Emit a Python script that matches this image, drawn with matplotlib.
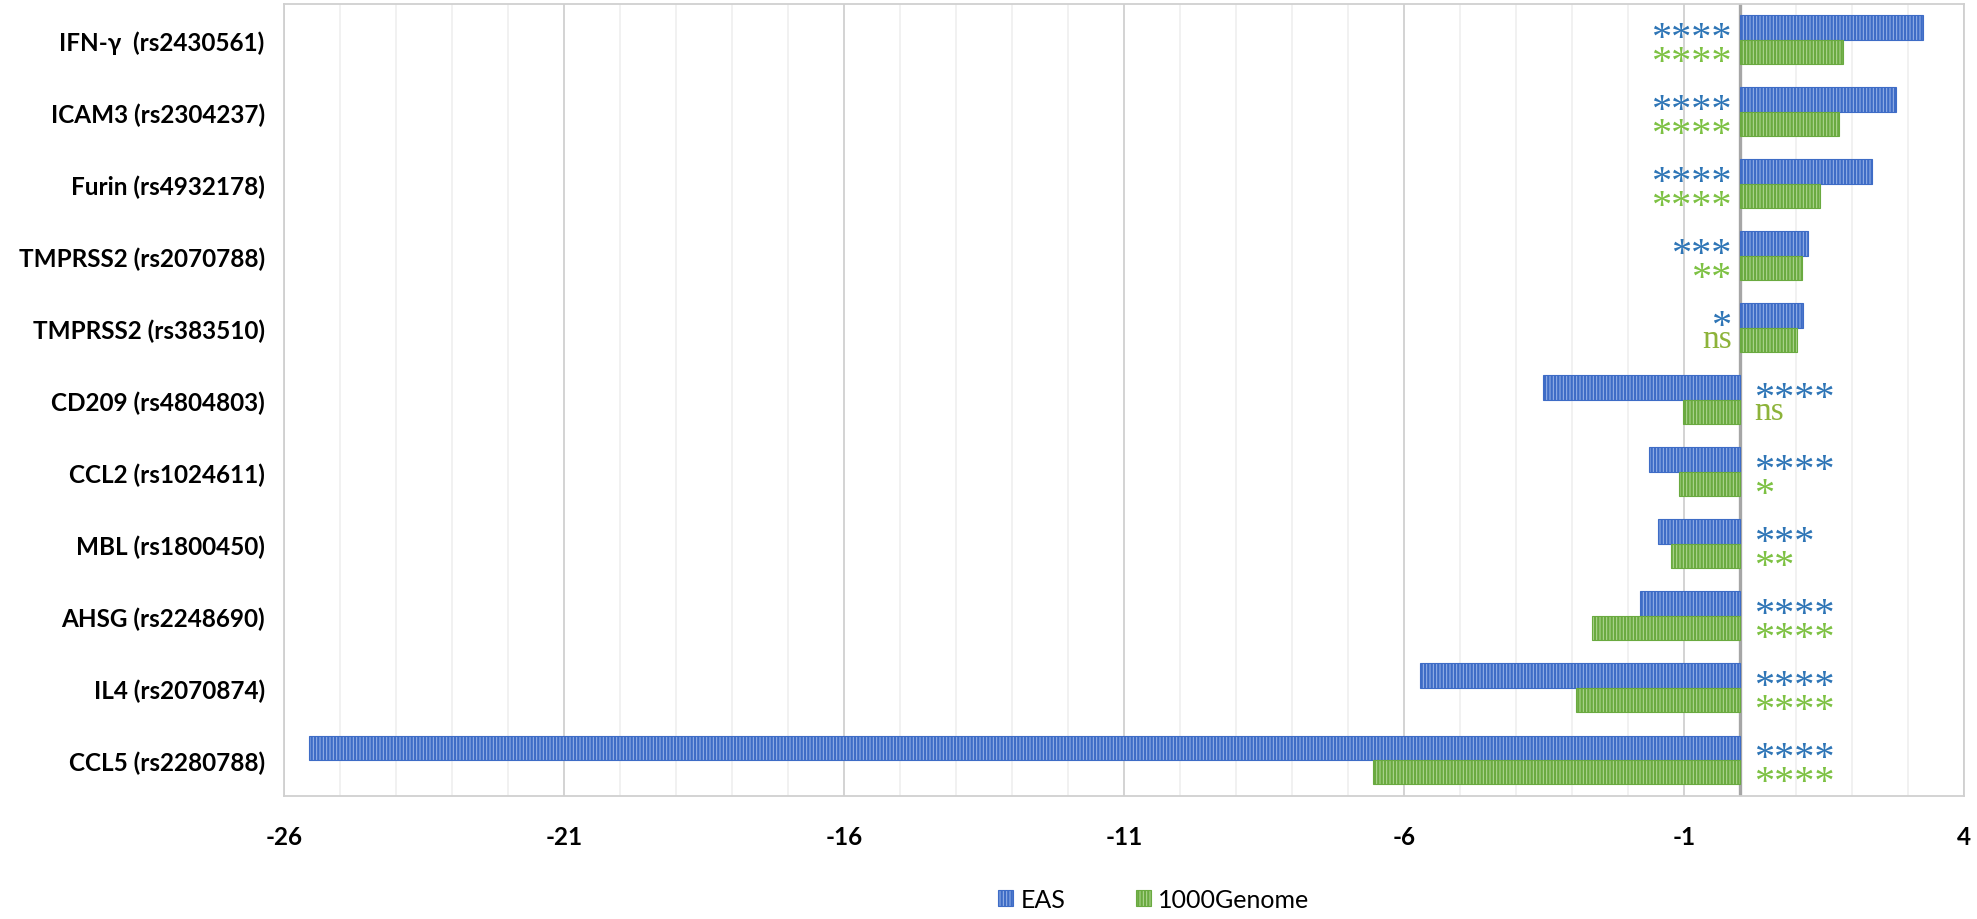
import numpy as np
import matplotlib
matplotlib.use('Agg')
import matplotlib.pyplot as plt

genes = ['IFN-γ  (rs2430561)', 'ICAM3 (rs2304237)', 'Furin (rs4932178)',
         'TMPRSS2 (rs2070788)', 'TMPRSS2 (rs383510)', 'CD209 (rs4804803)',
         'CCL2 (rs1024611)', 'MBL (rs1800450)', 'AHSG (rs2248690)',
         'IL4 (rs2070874)', 'CCL5 (rs2280788)']
eas = [3.27, 2.78, 2.35, 1.22, 1.12, -3.51, -1.62, -1.47, -1.78, -5.71, -25.55]
g1000 = [1.84, 1.76, 1.43, 1.10, 1.01, -1.01, -1.08, -1.23, -2.65, -2.92, -6.56]
sig_eas = ['****', '****', '****', '***', '*', '****', '****', '***', '****', '****', '****']
sig_1000 = ['****', '****', '****', '**', 'ns', 'ns', '*', '**', '****', '****', '****']
xticks = [-26, -21, -16, -11, -6, -1, 4]

blue_dark = '#3E6CC6'
blue_light = '#9DB7EA'
green_dark = '#6AAA40'
green_light = '#B5DA9A'
blue_txt = '#2E75B6'
green_txt = '#7DC143'
ns_col = '#8DB33A'

plt.rcParams['hatch.linewidth'] = 1.7
plt.rcParams['axes.unicode_minus'] = False

fig = plt.figure(figsize=(19.77, 9.2), dpi=100)
ax = fig.add_axes([0.1437, 0.1337, 0.8497, 0.861])

n = len(genes)
y = np.arange(n)[::-1]
h = 0.34
b1 = ax.barh(y + h/2, eas, height=h, color=blue_light, edgecolor=blue_dark,
             hatch='|||||', linewidth=0.8, label='EAS', zorder=3)
b2 = ax.barh(y - h/2, g1000, height=h, color=green_light, edgecolor=green_dark,
             hatch='|||||', linewidth=0.8, label='1000Genome', zorder=3)

# significance marks, stars sit high in the serif font so drop the baseline
def put_sig(yy, val, s, col):
    if s == 'ns':
        fs, dy = 24, -0.10
    else:
        fs, dy = 29, -0.28
    if val > 0:
        x, ha = -0.15, 'right'
    else:
        x, ha = 0.25, 'left'
    ax.text(x, yy + dy, s, ha=ha, va='baseline', color=col,
            fontsize=fs, family='Liberation Serif', zorder=4)

for i in range(n):
    put_sig(y[i] + h/2, eas[i], sig_eas[i], blue_txt)
    put_sig(y[i] - h/2, g1000[i], sig_1000[i], ns_col if sig_1000[i] == 'ns' else green_txt)

ax.set_xlim(-26, 4)
ax.set_ylim(-0.5, n - 0.5)
ax.set_xticks(xticks)
ax.set_xticks(np.arange(-26, 5, 1), minor=True)
ax.grid(axis='x', which='major', color='#D0D0D0', linewidth=1.3, zorder=0)
ax.grid(axis='x', which='minor', color='#EDEDED', linewidth=1.1, zorder=0)
ax.axvline(0, color='#A6A6A6', linewidth=2.4, zorder=2)
ax.set_yticks(y)
ax.set_yticklabels(genes)
ax.tick_params(axis='both', which='both', length=0)
ax.tick_params(axis='y', pad=14)
ax.tick_params(axis='x', pad=21)
for lab in ax.get_yticklabels() + ax.get_xticklabels():
    lab.set_fontweight('bold')
    lab.set_fontsize(17.5)
    lab.set_family('Lato')
for sp in ax.spines.values():
    sp.set_color('#D0D0D0')
    sp.set_linewidth(1.3)

leg = fig.legend(handles=[b1, b2], loc='center', bbox_to_anchor=(0.5837, 0.021),
                 ncol=2, frameon=False, prop={'family': 'Lato', 'size': 18},
                 handlelength=0.6, handleheight=0.6, columnspacing=2.8, handletextpad=0.3)

fig.savefig('out.png', dpi=100)
